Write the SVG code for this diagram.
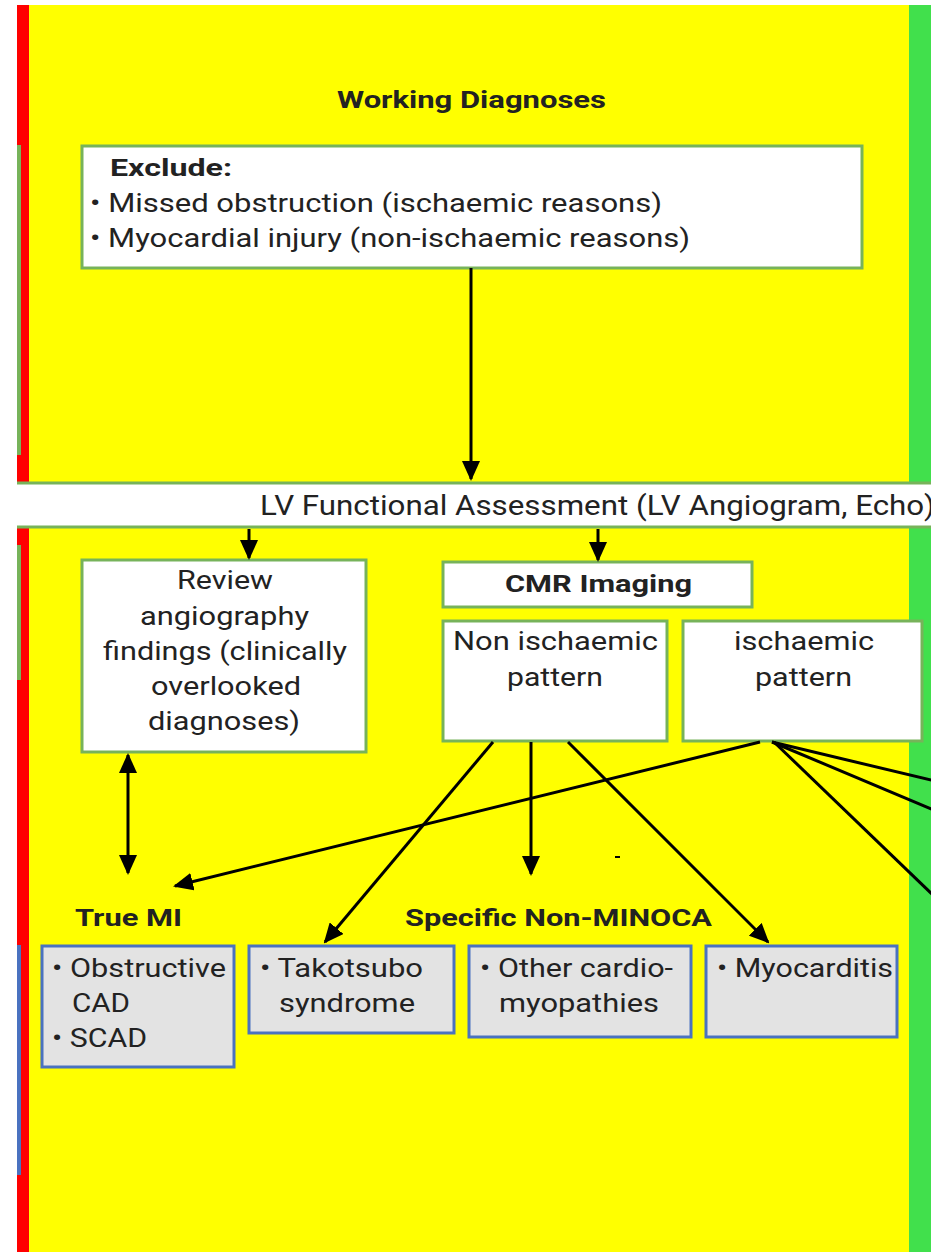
<svg xmlns="http://www.w3.org/2000/svg" width="931" height="1252" viewBox="0 0 931 1252">
  <style>
    text { font-family: Roboto, "Liberation Sans", sans-serif; fill: #222; }
    .b { font-weight: bold; font-size: 24px; }
    .r { font-size: 26px; }
    .box { fill: #ffffff; stroke: #77b35a; stroke-width: 3; }
    .gbox { fill: #e3e3e3; stroke: #4a72c0; stroke-width: 3; }
    .edge { stroke: #000; stroke-width: 3; fill: none; }
  </style>
  <defs>
    <marker id="arr" viewBox="0 0 20 18" refX="18" refY="9" markerWidth="20" markerHeight="18" markerUnits="userSpaceOnUse" orient="auto-start-reverse">
      <path d="M0,0 L20,9 L0,18 Z" fill="#000"/>
    </marker>
  </defs>

  <!-- background panels -->
  <rect x="0" y="0" width="931" height="1252" fill="#ffffff"/>
  <rect x="29" y="5" width="881" height="1247" fill="#ffff00"/>
  <rect x="17" y="5" width="12" height="1247" fill="#ff0000"/>
  <rect x="909" y="5" width="22" height="1247" fill="#41e04c"/>
  <rect x="17" y="145" width="4" height="310" fill="#77b35a"/>
  <rect x="17" y="545" width="4" height="135" fill="#77b35a"/>
  <rect x="17" y="945" width="4" height="230" fill="#4a72c0"/>

  <!-- band -->
  <g id="lv-assessment">
    <rect x="17" y="483" width="920" height="44" fill="#ffffff"/>
    <line x1="17" y1="483" x2="931" y2="483" stroke="#77b35a" stroke-width="3"/>
    <line x1="17" y1="527" x2="931" y2="527" stroke="#77b35a" stroke-width="3"/>
    <text x="260" y="515" font-size="27" textLength="675" lengthAdjust="spacingAndGlyphs">LV Functional Assessment (LV Angiogram, Echo)</text>
  </g>

  <g id="title">
    <text class="b" x="337" y="108" textLength="269" lengthAdjust="spacingAndGlyphs">Working Diagnoses</text>
  </g>

  <g id="exclude">
    <rect class="box" x="82" y="146" width="780" height="122"/>
    <text class="b" x="110" y="176" textLength="122" lengthAdjust="spacingAndGlyphs">Exclude:</text>
    <text class="r" x="90" y="212" textLength="572" lengthAdjust="spacingAndGlyphs">• Missed obstruction (ischaemic reasons)</text>
    <text class="r" x="90" y="247" textLength="600" lengthAdjust="spacingAndGlyphs">• Myocardial injury (non-ischaemic reasons)</text>
  </g>

  <g id="review">
    <rect class="box" x="82" y="560" width="284" height="192"/>
    <text class="r" x="177" y="589" textLength="96" lengthAdjust="spacingAndGlyphs">Review</text>
    <text class="r" x="140" y="625" textLength="169" lengthAdjust="spacingAndGlyphs">angiography</text>
    <text class="r" x="103" y="660" textLength="244" lengthAdjust="spacingAndGlyphs">findings (clinically</text>
    <text class="r" x="151" y="695" textLength="150" lengthAdjust="spacingAndGlyphs">overlooked</text>
    <text class="r" x="148" y="730" textLength="152" lengthAdjust="spacingAndGlyphs">diagnoses)</text>
  </g>

  <g id="cmr">
    <rect class="box" x="443" y="562" width="309" height="45"/>
    <text class="b" x="505" y="592" textLength="187" lengthAdjust="spacingAndGlyphs">CMR Imaging</text>
  </g>

  <g id="non-ischaemic">
    <rect class="box" x="443" y="621" width="224" height="120"/>
    <text class="r" x="453" y="650" textLength="205" lengthAdjust="spacingAndGlyphs">Non ischaemic</text>
    <text class="r" x="507" y="686" textLength="96" lengthAdjust="spacingAndGlyphs">pattern</text>
  </g>

  <g id="ischaemic">
    <rect class="box" x="683" y="621" width="239" height="120"/>
    <text class="r" x="734" y="650" textLength="140" lengthAdjust="spacingAndGlyphs">ischaemic</text>
    <text class="r" x="755" y="686" textLength="97" lengthAdjust="spacingAndGlyphs">pattern</text>
  </g>

  <g id="labels">
    <text class="b" x="75" y="926" textLength="107" lengthAdjust="spacingAndGlyphs">True MI</text>
    <text class="b" x="405" y="926" textLength="307" lengthAdjust="spacingAndGlyphs">Specific Non-MINOCA</text>
  </g>

  <g id="true-mi">
    <rect class="gbox" x="42" y="946" width="192" height="121"/>
    <text class="r" x="52" y="977" textLength="174" lengthAdjust="spacingAndGlyphs">• Obstructive</text>
    <text class="r" x="72" y="1012" textLength="58" lengthAdjust="spacingAndGlyphs">CAD</text>
    <text class="r" x="52" y="1047" textLength="95" lengthAdjust="spacingAndGlyphs">• SCAD</text>
  </g>

  <g id="takotsubo">
    <rect class="gbox" x="249" y="946" width="205" height="87"/>
    <text class="r" x="260" y="977" textLength="163" lengthAdjust="spacingAndGlyphs">• Takotsubo</text>
    <text class="r" x="279" y="1012" textLength="136" lengthAdjust="spacingAndGlyphs">syndrome</text>
  </g>

  <g id="cardiomyopathies">
    <rect class="gbox" x="469" y="946" width="222" height="91"/>
    <text class="r" x="480" y="977" textLength="193" lengthAdjust="spacingAndGlyphs">• Other cardio-</text>
    <text class="r" x="499" y="1012" textLength="160" lengthAdjust="spacingAndGlyphs">myopathies</text>
  </g>

  <g id="myocarditis">
    <rect class="gbox" x="706" y="946" width="191" height="91"/>
    <text class="r" x="717" y="977" textLength="176" lengthAdjust="spacingAndGlyphs">• Myocarditis</text>
  </g>

  <g id="connectors">
    <line class="edge" x1="471" y1="268" x2="471" y2="479" marker-end="url(#arr)"/>
    <line class="edge" x1="249" y1="529" x2="249" y2="558" marker-end="url(#arr)"/>
    <line class="edge" x1="598" y1="529" x2="598" y2="560" marker-end="url(#arr)"/>
    <line class="edge" x1="128" y1="755" x2="128" y2="873" marker-start="url(#arr)" marker-end="url(#arr)"/>
    <line class="edge" x1="493" y1="742" x2="325" y2="942" marker-end="url(#arr)"/>
    <line class="edge" x1="531" y1="742" x2="531" y2="874" marker-end="url(#arr)"/>
    <line class="edge" x1="568" y1="742" x2="768" y2="942" marker-end="url(#arr)"/>
    <line class="edge" x1="760" y1="742" x2="175" y2="886" marker-end="url(#arr)"/>
    <line class="edge" x1="772" y1="742" x2="960" y2="787"/>
    <line class="edge" x1="772" y1="742" x2="960" y2="821"/>
    <line class="edge" x1="774" y1="742" x2="960" y2="921"/>
    <rect x="615" y="856" width="5" height="2" fill="#000"/>
  </g>
</svg>
